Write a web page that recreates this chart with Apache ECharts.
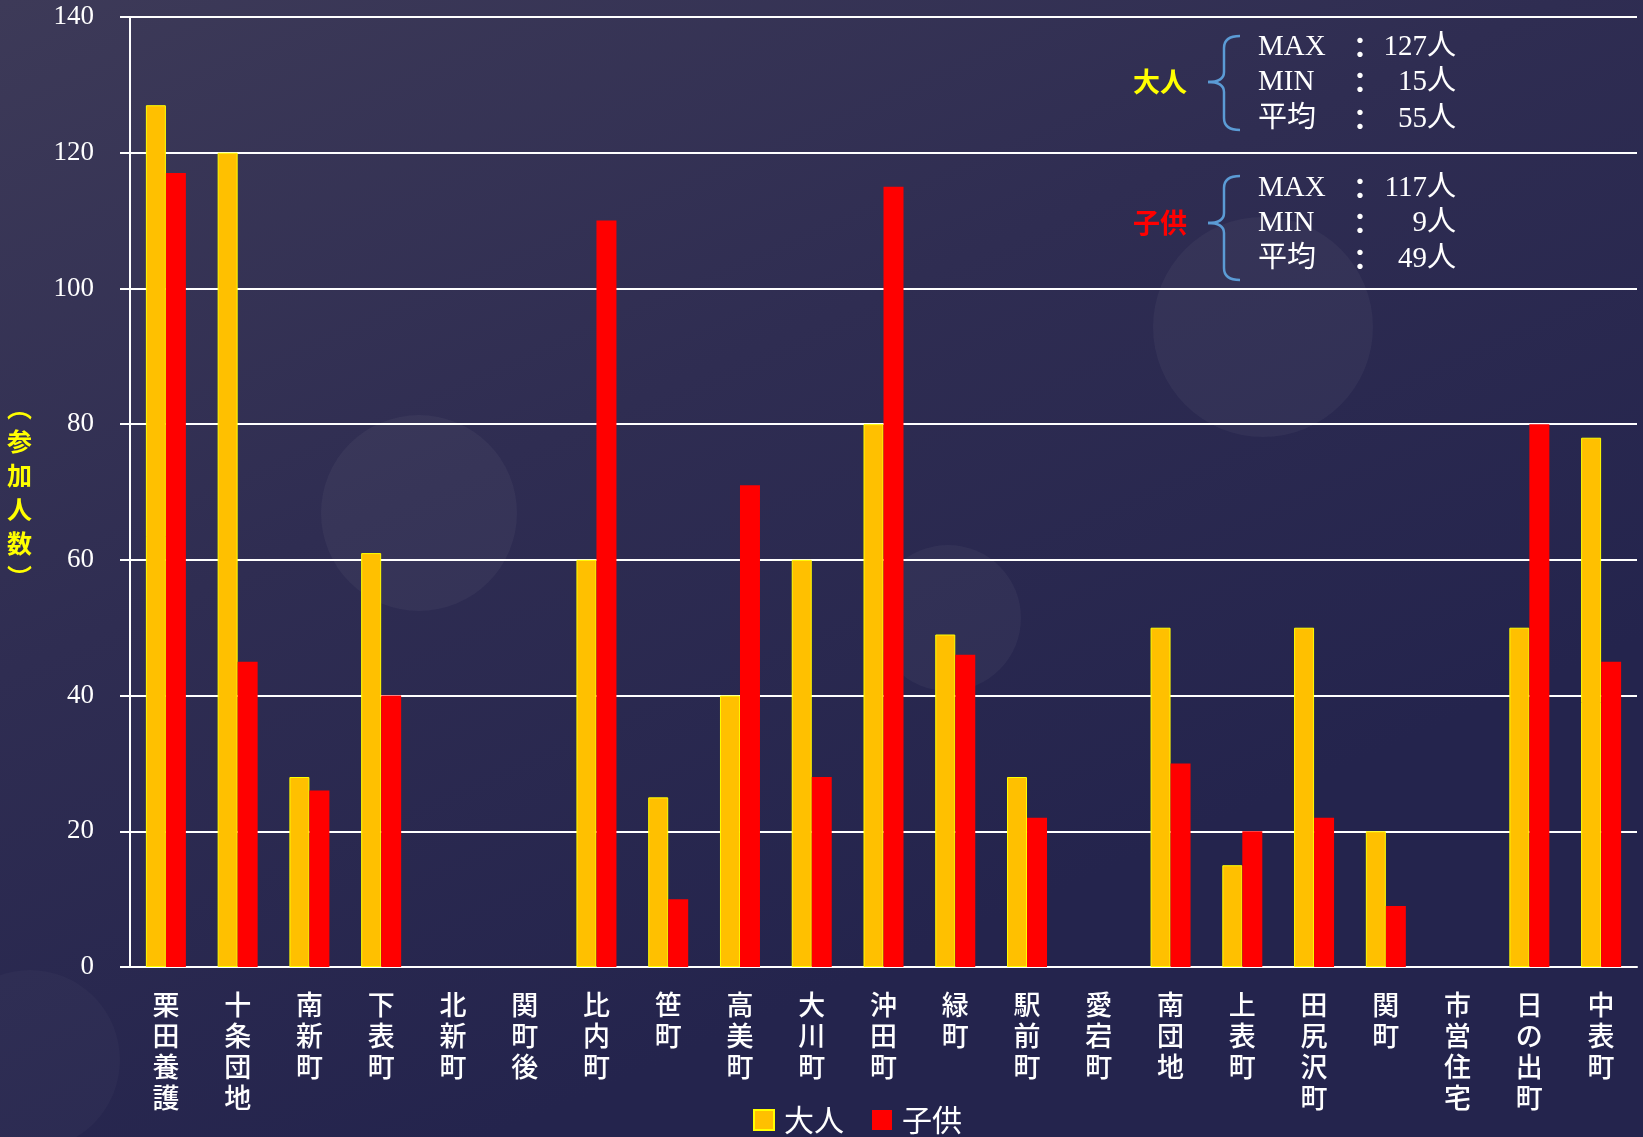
<!DOCTYPE html>
<html>
<head>
<meta charset="utf-8">
<script src="https://cdn.jsdelivr.net/npm/echarts@6/dist/echarts.min.js"></script>
<style>
  html, body { margin: 0; padding: 0; }
  #chart { width: 1643px; height: 1137px; }
</style>
</head>
<body>
<div id="chart"></div>
<script>
var areas = ['栗田養護', '十条団地', '南新町', '下表町', '北新町', '関町後', '比内町', '笹町', '高美町', '大川町',
  '沖田町', '緑町', '駅前町', '愛宕町', '南団地', '上表町', '田尻沢町', '関町', '市営住宅', '日の出町', '中表町'];
var adults = [127, 120, 28, 61, 0, 0, 60, 25, 40, 60, 80, 49, 28, 0, 50, 15, 50, 20, 0, 50, 78];
var children = [117, 45, 26, 40, 0, 0, 110, 10, 71, 28, 115, 46, 22, 0, 30, 20, 22, 9, 0, 80, 45];
var yTicks = [0, 20, 40, 60, 80, 100, 120, 140];

var serif = "'Liberation Serif', 'DejaVu Serif', 'Noto Sans CJK JP'";
var cjk = "'Noto Sans CJK JP', 'Noto Sans CJK SC'";

function stats(arr) {
  var vals = arr.filter(function (v) { return v > 0; });
  var sum = 0;
  vals.forEach(function (v) { sum += v; });
  return {
    max: Math.max.apply(null, vals),
    min: Math.min.apply(null, vals),
    avg: Math.round(sum / vals.length)
  };
}

// zero = no bar at all (no border line)
function bars(arr) {
  return arr.map(function (v) { return v === 0 ? '-' : v; });
}

// curly brace made of quadratic curves and straight lines
function brace(top, mid, bottom) {
  var xr = 1240, xm = 1224, xl = 1208;
  var st = { stroke: '#5b9bd5', lineWidth: 2.5, fill: null };
  function curve(x1, y1, cx, cy, x2, y2) {
    return { type: 'bezierCurve', shape: { x1: x1, y1: y1, cpx1: cx, cpy1: cy, x2: x2, y2: y2 }, style: st };
  }
  function line(x1, y1, x2, y2) {
    return { type: 'line', shape: { x1: x1, y1: y1, x2: x2, y2: y2 }, style: st };
  }
  return [
    curve(xr, top, xm, top, xm, top + 12),
    line(xm, top + 12, xm, mid - 10),
    curve(xm, mid - 10, xm, mid, xl, mid),
    curve(xl, mid, xm, mid, xm, mid + 10),
    line(xm, mid + 10, xm, bottom - 12),
    curve(xm, bottom - 12, xm, bottom, xr, bottom)
  ];
}

function statBlock(name, color, s, rows, braceTop, braceBottom) {
  var mid = rows[1];
  var items = brace(braceTop, mid, braceBottom);
  items.push({ type: 'text', x: 1160, y: mid, style: { text: name, fill: color, font: 'bold 27px ' + cjk, align: 'center', verticalAlign: 'middle' } });
  var labels = ['MAX', 'MIN', '平均'];
  var values = [s.max, s.min, s.avg];
  for (var i = 0; i < 3; i++) {
    items.push({ type: 'text', x: 1258, y: rows[i], style: { text: labels[i], fill: '#fff', font: '29px ' + serif, align: 'left', verticalAlign: 'middle' } });
    items.push({ type: 'text', x: 1360, y: rows[i], style: { text: '：', fill: '#fff', font: 'bold 28px ' + cjk, align: 'center', verticalAlign: 'middle' } });
    items.push({ type: 'text', x: 1456, y: rows[i], style: { text: values[i] + '人', fill: '#fff', font: '29px ' + serif, align: 'right', verticalAlign: 'middle' } });
  }
  return items;
}

var bokeh = [
  { type: 'circle', z: -10, shape: { cx: 419, cy: 513, r: 98 }, style: { fill: 'rgba(255,255,255,0.04)' } },
  { type: 'circle', z: -10, shape: { cx: 1263, cy: 327, r: 110 }, style: { fill: 'rgba(255,255,255,0.04)' } },
  { type: 'circle', z: -10, shape: { cx: 948, cy: 618, r: 73 }, style: { fill: 'rgba(255,255,255,0.04)' } },
  { type: 'circle', z: -10, shape: { cx: 30, cy: 1060, r: 90 }, style: { fill: 'rgba(255,255,255,0.025)' } }
];

var chart = echarts.init(document.getElementById('chart'));

var option = {
  backgroundColor: {
    type: 'linear', x: 0, y: 0, x2: 0.3, y2: 1,
    colorStops: [
      { offset: 0, color: '#3d3a58' },
      { offset: 0.5, color: '#2f2d52' },
      { offset: 1, color: '#24244d' }
    ]
  },
  animation: false,
  grid: { left: 130, right: 6, top: 17, bottom: 170 },
  legend: {
    data: ['大人', '子供'],
    left: 748,
    top: 1100,
    itemWidth: 20,
    itemHeight: 20,
    itemGap: 28,
    icon: 'rect',
    textStyle: { color: '#fff', fontSize: 30, fontFamily: cjk, padding: [0, 0, 0, 5] }
  },
  xAxis: {
    type: 'category',
    data: areas,
    axisLine: { lineStyle: { color: '#fff', width: 2 } },
    axisTick: { length: 11, lineStyle: { color: '#fff', width: 2 } },
    axisLabel: {
      interval: 0,
      margin: 22,
      color: '#fff',
      fontSize: 27,
      fontWeight: 500,
      lineHeight: 31,
      fontFamily: cjk,
      formatter: function (v) { return v.split('').join('\n'); }
    }
  },
  yAxis: {
    type: 'value',
    min: yTicks[0],
    max: yTicks[yTicks.length - 1],
    interval: yTicks[1] - yTicks[0],
    name: '︵\n参\n加\n人\n数\n︶',
    nameLocation: 'middle',
    nameRotate: 0,
    nameGap: 98,
    nameTextStyle: { color: '#ffff00', fontSize: 25, fontWeight: 'bold', lineHeight: 34, fontFamily: cjk },
    axisLine: { show: true, lineStyle: { color: '#fff', width: 2 } },
    axisTick: { show: true, length: 10, lineStyle: { color: '#fff', width: 2 } },
    axisLabel: { color: '#fff', fontSize: 27, margin: 36, fontFamily: serif },
    splitLine: { lineStyle: { color: '#fff', width: 2 } }
  },
  series: [
    {
      name: '大人',
      type: 'bar',
      data: bars(adults),
      barWidth: 20,
      barGap: '0%',
      itemStyle: { color: '#ffc000', borderColor: '#ffff00', borderWidth: 1 }
    },
    {
      name: '子供',
      type: 'bar',
      data: bars(children),
      barWidth: 20,
      barGap: '0%',
      itemStyle: { color: '#ff0000' }
    }
  ],
  graphic: bokeh
    .concat(statBlock('大人', '#ffff00', stats(adults), [47, 82, 119], 36, 130))
    .concat(statBlock('子供', '#ff0000', stats(children), [188, 223, 259], 176, 280))
};

chart.setOption(option);

window.addEventListener('resize', function () {
  chart.resize();
});
</script>
</body>
</html>
